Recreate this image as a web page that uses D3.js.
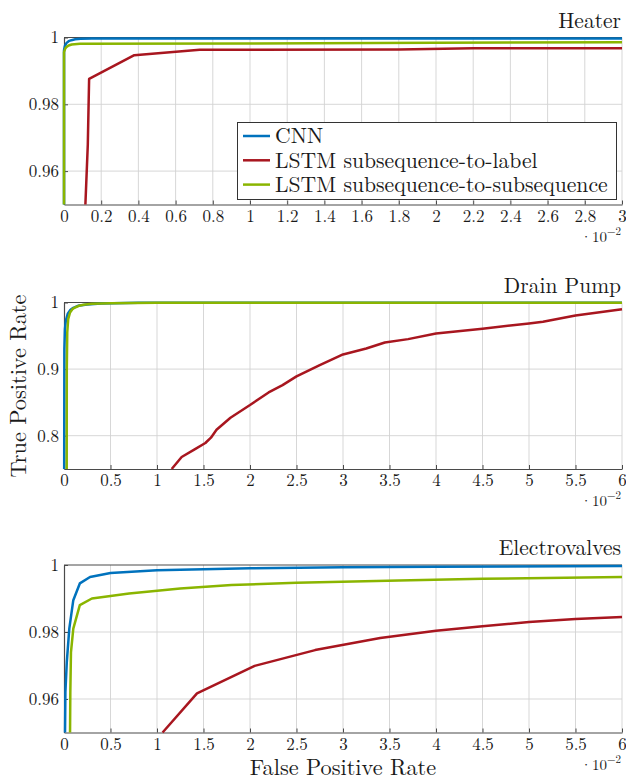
<!DOCTYPE html>
<html>
<head>
<meta charset="utf-8">
<script src="https://cdn.jsdelivr.net/npm/d3@7"></script>
<style>
body { margin: 0; background: #fff; }
</style>
</head>
<body>
<script>
// all x values are in units of 1e-2 (the axis multiplier under each plot)
var seriesNames = ["CNN", "LSTM subsequence-to-label", "LSTM subsequence-to-subsequence"]

// Heater
var heaterXTicks = [0, 0.2, 0.4, 0.6, 0.8, 1, 1.2, 1.4, 1.6, 1.8, 2, 2.2, 2.4, 2.6, 2.8, 3]
var heaterYTicks = [0.96, 0.98, 1]
var heaterCnn = [[0, 0.95], [0, 0.9962], [0.005, 0.9975], [0.014, 0.9984], [0.025, 0.9989], [0.04, 0.9992],
  [0.06, 0.9995], [0.09, 0.9996], [0.15, 0.9997], [3, 0.9997]]
var heaterLabel = [[0.115, 0.95], [0.128, 0.968], [0.135, 0.9876], [0.378, 0.9947], [0.73, 0.9963],
  [1.8, 0.9964], [2.2, 0.9968], [3, 0.9968]]
var heaterSubseq = [[0, 0.95], [0, 0.9956], [0.006, 0.9966], [0.014, 0.9972], [0.025, 0.9976], [0.041, 0.9979],
  [0.086, 0.9981], [1, 0.9982], [2, 0.9984], [3, 0.9986]]

// Drain Pump
var pumpXTicks = [0, 0.5, 1, 1.5, 2, 2.5, 3, 3.5, 4, 4.5, 5, 5.5, 6]
var pumpYTicks = [0.8, 0.9, 1]
var pumpCnn = [[0.002, 0.75], [0.004, 0.93], [0.01, 0.96], [0.02, 0.973], [0.04, 0.983], [0.07, 0.989],
  [0.1, 0.992], [0.15, 0.995], [0.25, 0.997], [0.4, 0.9985], [0.8, 0.9995], [6, 0.9998]]
var pumpLabel = [[1.158, 0.75], [1.265, 0.768], [1.4, 0.779], [1.52, 0.789], [1.58, 0.797], [1.64, 0.809], [1.79, 0.827],
  [2.0, 0.846], [2.2, 0.865], [2.35, 0.876], [2.5, 0.889], [2.75, 0.906], [3.0, 0.922], [3.25, 0.931],
  [3.45, 0.94], [3.7, 0.945], [4.0, 0.9535], [4.5, 0.9605], [5.0, 0.9686], [5.15, 0.971], [5.5, 0.9805], [6.0, 0.99]]
var pumpSubseq = [[0.029, 0.75], [0.03, 0.9], [0.035, 0.955], [0.045, 0.975], [0.065, 0.985], [0.09, 0.99],
  [0.118, 0.9925], [0.16, 0.995], [0.21, 0.9965], [0.3, 0.998], [0.5, 0.999], [1, 0.9995], [6, 0.9998]]

// Electrovalves
var valveXTicks = [0, 0.5, 1, 1.5, 2, 2.5, 3, 3.5, 4, 4.5, 5, 5.5, 6]
var valveYTicks = [0.96, 0.98, 1]
var valveCnn = [[0.011, 0.95], [0.015, 0.962], [0.03, 0.971], [0.057, 0.981], [0.1, 0.9895], [0.17, 0.9945],
  [0.28, 0.9964], [0.5, 0.9976], [1.0, 0.9984], [2.0, 0.999], [3.0, 0.9993], [4, 0.9995], [6, 0.9997]]
var valveLabel = [[1.06, 0.95], [1.43, 0.9617], [2.05, 0.9699], [2.7, 0.9746], [3.4, 0.9782], [4.0, 0.9804],
  [4.5, 0.9817], [5.0, 0.983], [5.5, 0.9839], [6.0, 0.9845]]
var valveSubseq = [[0.065, 0.95], [0.068, 0.962], [0.075, 0.974], [0.1, 0.981], [0.17, 0.988], [0.3, 0.99],
  [0.7, 0.9915], [1.25, 0.993], [1.8, 0.994], [2.5, 0.9947], [3.6, 0.9954], [4.5, 0.9959], [6, 0.9964]]

var w = 626
var h = 781
var colors = ["#0072BD", "#A8161F", "#8AB500"]
var axisColor = "#4a4a4a"
var gridColor = "#d2d2d2"
var font = "'Latin Modern Roman', 'Liberation Serif', serif"

var svg = d3.select("body").append("svg").attr("width", w).attr("height", h)

var panels = [
  { title: "Heater", xmax: 3, ymin: 0.95, top: 37.5, bottom: 204.5, xticks: heaterXTicks, yticks: heaterYTicks,
    series: [heaterCnn, heaterLabel, heaterSubseq], legend: true },
  { title: "Drain Pump", xmax: 6, ymin: 0.75, top: 302.5, bottom: 469, xticks: pumpXTicks, yticks: pumpYTicks,
    series: [pumpCnn, pumpLabel, pumpSubseq] },
  { title: "Electrovalves", xmax: 6, ymin: 0.95, top: 565, bottom: 732.5, xticks: valveXTicks, yticks: valveYTicks,
    series: [valveCnn, valveLabel, valveSubseq] }
]

var fmt = function(d) { return String(+d.toFixed(2)) }

panels.forEach(function(p) {
  var x = d3.scaleLinear().domain([0, p.xmax]).range([64, 622])
  var y = d3.scaleLinear().domain([p.ymin, 1]).range([p.bottom, p.top])
  var g = svg.append("g")

  // grid
  g.selectAll(".gx").data(p.xticks.filter(function(d) { return d > 0 })).join("line")
    .attr("x1", function(d) { return x(d) }).attr("x2", function(d) { return x(d) })
    .attr("y1", p.top).attr("y2", p.bottom)
    .attr("stroke", gridColor).attr("stroke-width", 0.9)
  g.selectAll(".gy").data(p.yticks.filter(function(d) { return d < 1 })).join("line")
    .attr("x1", 64).attr("x2", 622)
    .attr("y1", function(d) { return y(d) }).attr("y2", function(d) { return y(d) })
    .attr("stroke", gridColor).attr("stroke-width", 0.9)

  // top border
  g.append("line").attr("x1", 64).attr("x2", 622).attr("y1", p.top).attr("y2", p.top)
    .attr("stroke", axisColor).attr("stroke-width", 1)

  // axes
  var xa = g.append("g").attr("transform", "translate(0," + p.bottom + ")")
    .call(d3.axisBottom(x).tickValues(p.xticks).tickFormat(fmt).tickSizeInner(-4).tickSizeOuter(0))
  var ya = g.append("g").attr("transform", "translate(64,0)")
    .call(d3.axisLeft(y).tickValues(p.yticks).tickFormat(fmt).tickSizeInner(-4).tickSizeOuter(0).tickPadding(5))
  ;[xa, ya].forEach(function(a) {
    a.attr("font-family", null).attr("font-size", 17)
    a.select(".domain").attr("stroke", axisColor).attr("stroke-width", 1.2)
    a.selectAll(".tick line").attr("stroke", axisColor)
    a.selectAll(".tick text").attr("fill", "#1a1a1a")
  })
  xa.selectAll(".tick text").attr("y", 17).attr("dy", null)

  // multiplier
  var m = g.append("text").attr("x", 621).attr("y", p.bottom + 37).attr("text-anchor", "end").attr("font-size", 15)
  m.append("tspan").text("·10")
  m.append("tspan").attr("dy", -7).attr("font-size", 11).text("−2")

  // curves
  var line = d3.line().x(function(d) { return x(d[0]) }).y(function(d) { return y(d[1]) })
  g.selectAll(".curve").data(p.series).join("path")
    .attr("d", line).attr("fill", "none")
    .attr("stroke", function(d, i) { return colors[i] })
    .attr("stroke-width", 2.5).attr("stroke-linejoin", "round")

  // title
  g.append("text").attr("x", 621).attr("y", p.top - 10).attr("text-anchor", "end")
    .attr("font-size", 21.5).text(p.title)

  if (p.legend) {
    var lg = g.append("g")
    lg.append("rect").attr("x", 237.5).attr("y", 122.5).attr("width", 379).attr("height", 77)
      .attr("fill", "#fff").attr("stroke", "#333").attr("stroke-width", 1)
    seriesNames.forEach(function(name, i) {
      var cy = 136 + i * 24.3
      lg.append("line").attr("x1", 243).attr("x2", 270).attr("y1", cy).attr("y2", cy)
        .attr("stroke", colors[i]).attr("stroke-width", 2.5)
      lg.append("text").attr("x", 275).attr("y", cy + 7.4).attr("font-size", 21.7).text(name)
    })
  }
})

// axis labels
svg.append("text").attr("x", 343).attr("y", 775).attr("text-anchor", "middle").attr("font-size", 22.3)
  .text("False Positive Rate")
svg.append("text").attr("transform", "translate(26,386) rotate(-90)").attr("text-anchor", "middle")
  .attr("font-size", 22.3).text("True Positive Rate")

svg.selectAll("text").style("font-family", font).style("fill", "#1a1a1a")
</script>
</body>
</html>
